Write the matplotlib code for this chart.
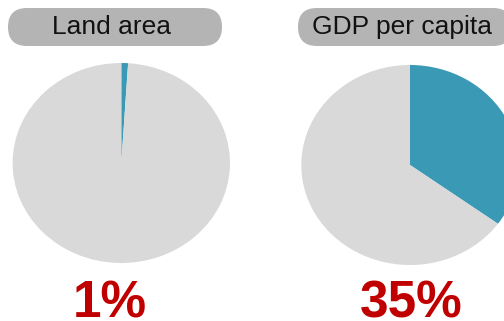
import matplotlib.pyplot as plt
from matplotlib.patches import FancyBboxPatch

plt.rcParams['font.family'] = ['Liberation Sans', 'DejaVu Sans']

# share of the world, per indicator
labels = ['Land area', 'GDP per capita']
shares = [1, 35]

grey = '#d9d9d9'
blue = '#3a99b4'
red = '#c00000'

W, H = 504, 321
fig = plt.figure(figsize=(W / 100, H / 100), dpi=100)

# overlay in pixel units for the header pills and the big numbers
over = fig.add_axes([0, 0, 1, 1])
over.set_xlim(0, W)
over.set_ylim(H, 0)
over.axis('off')

# pie centres (px) and radii
centres = [(121.3, 163.0), (410.0, 165.0)]
rx, ry = 108.7, 100.0
pill_x = [(8, 222), (298, 512)]
label_x = [112, 402]
pct_x = [110, 411]

for lab, val, (cx, cy), (px0, px1), lx, vx in zip(labels, shares, centres, pill_x, label_x, pct_x):
    ax = fig.add_axes([(cx - rx) / W, (H - cy - ry) / H, 2 * rx / W, 2 * ry / H])
    ax.pie([val, 100 - val], colors=[blue, grey], startangle=90, counterclock=False,
           wedgeprops=dict(linewidth=0))
    ax.set_aspect('auto')
    ax.set_xlim(-1, 1)
    ax.set_ylim(-1, 1)

    pill = FancyBboxPatch((px0, 8), px1 - px0, 38,
                          boxstyle='round,pad=0,rounding_size=19',
                          facecolor='#b4b4b4', edgecolor='none')
    over.add_patch(pill)
    over.text(lx, 27, lab, fontsize=19, ha='center', va='center', color='#111111')
    over.text(vx, 317, f'{val}%', fontsize=37, fontweight='bold', ha='center',
              va='baseline', color=red)

fig.savefig('out.png', dpi=100)
